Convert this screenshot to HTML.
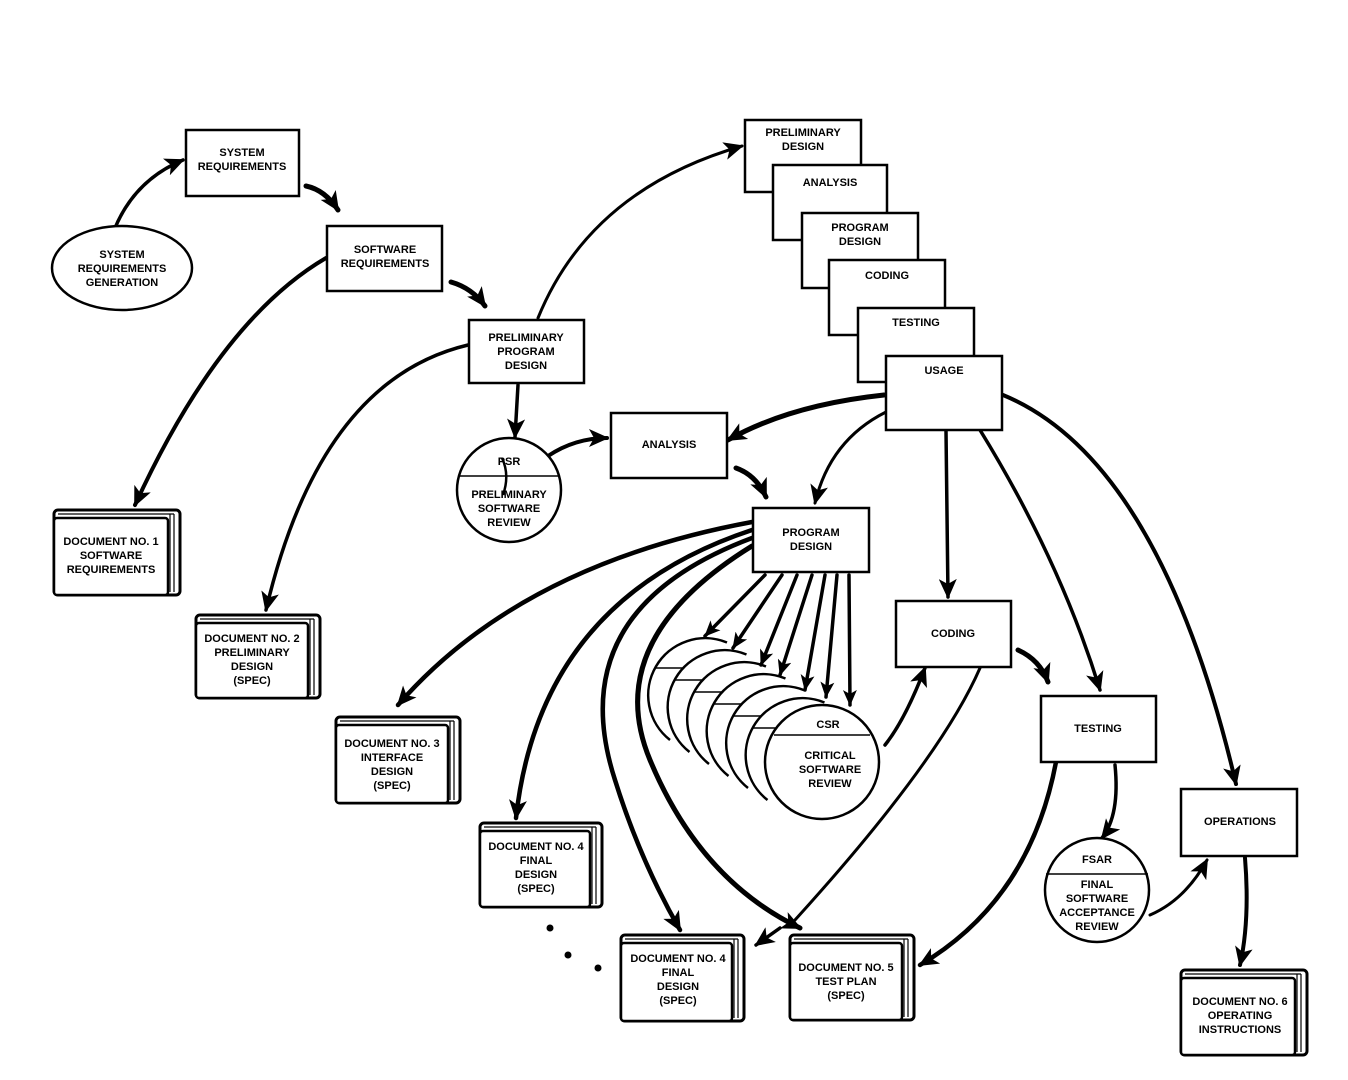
<!DOCTYPE html>
<html><head><meta charset="utf-8"><style>
html,body{margin:0;padding:0;background:#fff;}
svg{display:block;}
text{font-family:"Liberation Sans",Arial,sans-serif;font-weight:bold;font-size:11px;fill:#000;text-anchor:middle;}
.b{fill:#fff;stroke:#000;stroke-width:2.5;}
.c{fill:none;stroke:#000;stroke-linecap:round;}
</style></head><body>
<svg width="1348" height="1080" viewBox="0 0 1348 1080" xmlns="http://www.w3.org/2000/svg">
<defs>
<marker id="a" markerUnits="userSpaceOnUse" markerWidth="22" markerHeight="18" refX="18" refY="9" orient="auto">
<path d="M0,0 L20,9 L0,18 L5,9 Z" fill="#000"/></marker>
<marker id="s" markerUnits="userSpaceOnUse" markerWidth="18" markerHeight="14" refX="15" refY="7" orient="auto">
<path d="M0,0 L16,7 L0,14 L4,7 Z" fill="#000"/></marker>
</defs>

<!-- connectors -->
<g class="c" marker-end="url(#a)">
<path d="M115,228 Q135,180 183,160" stroke-width="3.5"/>
<path d="M306,186 Q325,190 338,210" stroke-width="5"/>
<path d="M451,282 Q472,288 485,306" stroke-width="5"/>
<path d="M326,258 Q220,320 135,505" stroke-width="4"/>
<path d="M468,345 Q320,380 266,610" stroke-width="3.5"/>
<path d="M538,318 Q590,190 742,146" stroke-width="3"/>
<path d="M518,385 L515,437" stroke-width="3.5"/>
<path d="M548,456 Q575,438 607,438" stroke-width="4"/>
<path d="M736,468 Q756,475 766,497" stroke-width="5"/>
<path d="M884,395 Q790,405 728,440" stroke-width="5"/>
<path d="M886,412 Q830,440 815,503" stroke-width="3"/>
<path d="M946,431 L948,597" stroke-width="3.5"/>
<path d="M980,430 Q1060,560 1100,690" stroke-width="3.5"/>
<path d="M1003,395 Q1160,460 1236,784" stroke-width="4"/>
<path d="M752,522 Q520,565 398,705" stroke-width="4.5"/>
<path d="M752,530 Q540,600 516,818" stroke-width="4.5"/>
<path d="M752,538 Q560,610 615,780 Q640,860 680,930" stroke-width="4.5"/>
<path d="M752,546 Q600,640 650,760 Q700,880 800,928" stroke-width="5"/>
<path d="M885,745 Q905,720 925,668" stroke-width="3.5"/>
<path d="M1018,650 Q1040,660 1048,682" stroke-width="5"/>
<path d="M1056,762 Q1030,900 920,965" stroke-width="4.5"/>
<path d="M1115,765 Q1120,815 1102,838" stroke-width="3.5"/>
<path d="M1150,915 Q1185,900 1207,860" stroke-width="3"/>
<path d="M1245,858 Q1250,920 1240,965" stroke-width="4"/>
<path d="M780,928 L756,945" stroke-width="3.5"/>
</g>
<path class="c" d="M980,668 Q940,760 795,920" stroke-width="3"/>
<!-- fan arrows -->
<g class="c" marker-end="url(#s)" stroke-width="3.5">
<path d="M765,575 L705,636"/>
<path d="M782,575 L733,648"/>
<path d="M797,575 L761,665"/>
<path d="M812,575 L780,675"/>
<path d="M825,575 L805,690"/>
<path d="M837,575 L826,697"/>
<path d="M849,575 L850,705"/>
</g>

<!-- ellipse -->
<ellipse cx="122" cy="268" rx="70" ry="42" class="b"/>
<text x="122" y="258">SYSTEM</text><text x="122" y="272">REQUIREMENTS</text><text x="122" y="286">GENERATION</text>

<!-- boxes -->
<rect x="186" y="130" width="113" height="66" class="b"/><text x="242" y="156">SYSTEM</text><text x="242" y="170">REQUIREMENTS</text>
<rect x="327" y="226" width="115" height="65" class="b"/><text x="385" y="253">SOFTWARE</text><text x="385" y="267">REQUIREMENTS</text>
<rect x="469" y="320" width="115" height="63" class="b"/><text x="526" y="341">PRELIMINARY</text><text x="526" y="355">PROGRAM</text><text x="526" y="369">DESIGN</text>
<rect x="611" y="413" width="116" height="65" class="b"/><text x="669" y="448">ANALYSIS</text>
<rect x="753" y="508" width="116" height="64" class="b"/><text x="811" y="536">PROGRAM</text><text x="811" y="550">DESIGN</text>
<rect x="896" y="601" width="115" height="66" class="b"/><text x="953" y="637">CODING</text>
<rect x="1041" y="696" width="115" height="66" class="b"/><text x="1098" y="732">TESTING</text>
<rect x="1181" y="789" width="116" height="67" class="b"/><text x="1240" y="825">OPERATIONS</text>

<!-- stack -->
<rect x="745" y="120" width="116" height="72" class="b"/><text x="803" y="136">PRELIMINARY</text><text x="803" y="150">DESIGN</text>
<rect x="773" y="165" width="114" height="75" class="b"/><text x="830" y="186">ANALYSIS</text>
<rect x="802" y="213" width="116" height="75" class="b"/><text x="860" y="231">PROGRAM</text><text x="860" y="245">DESIGN</text>
<rect x="829" y="260" width="116" height="75" class="b"/><text x="887" y="279">CODING</text>
<rect x="858" y="308" width="116" height="74" class="b"/><text x="916" y="326">TESTING</text>
<rect x="886" y="356" width="116" height="74" class="b"/><text x="944" y="374">USAGE</text>

<!-- PSR -->
<circle cx="509" cy="490" r="52" class="b"/>
<line x1="458" y1="476" x2="560" y2="476" stroke="#000" stroke-width="1.5"/>
<text x="509" y="465">PSR</text><text x="509" y="498">PRELIMINARY</text><text x="509" y="512">SOFTWARE</text><text x="509" y="526">REVIEW</text>
<path d="M502,458 Q510,475 503,495" stroke="#000" stroke-width="2.5" fill="none"/>

<!-- CSR stack: crescents -->
<g fill="none" stroke="#000" stroke-width="2.5">
<path d="M727,642.5 A57,57 0 0 0 670,740"/>
<path d="M746.5,654.5 A57,57 0 0 0 689.5,752"/>
<path d="M766,666.5 A57,57 0 0 0 709,764"/>
<path d="M785.5,678.5 A57,57 0 0 0 728.5,776"/>
<path d="M805,690.5 A57,57 0 0 0 748,788"/>
<path d="M824.5,702.5 A57,57 0 0 0 767.5,800"/>
</g>
<g stroke="#000" stroke-width="1.5">
<line x1="655" y1="668" x2="683" y2="668"/>
<line x1="674.5" y1="680" x2="702.5" y2="680"/>
<line x1="694" y1="692" x2="722" y2="692"/>
<line x1="713.5" y1="704" x2="741.5" y2="704"/>
<line x1="733" y1="716" x2="761" y2="716"/>
<line x1="752.5" y1="728" x2="780.5" y2="728"/>
</g>
<circle cx="822" cy="762" r="57" class="b"/>
<line x1="774" y1="735" x2="870" y2="735" stroke="#000" stroke-width="1.5"/>
<text x="828" y="728">CSR</text><text x="830" y="759">CRITICAL</text><text x="830" y="773">SOFTWARE</text><text x="830" y="787">REVIEW</text>

<!-- FSAR -->
<circle cx="1097" cy="890" r="52" class="b"/>
<line x1="1046" y1="874" x2="1148" y2="874" stroke="#000" stroke-width="1.5"/>
<text x="1097" y="863">FSAR</text><text x="1097" y="888">FINAL</text><text x="1097" y="902">SOFTWARE</text><text x="1097" y="916">ACCEPTANCE</text><text x="1097" y="930">REVIEW</text>

<!-- books -->
<g fill="#fff" stroke="#000">
<g transform="translate(54,510)"><rect x="0" y="0" width="126" height="85" rx="4" stroke-width="3"/><path d="M4,4 H120 M116,4 V82 M120,4 V82" stroke-width="1.2"/><rect x="0" y="8" width="114" height="77" rx="3" stroke-width="2.5"/></g>
<g transform="translate(196,615)"><rect x="0" y="0" width="124" height="83" rx="4" stroke-width="3"/><path d="M4,4 H118 M114,4 V80 M118,4 V80" stroke-width="1.2"/><rect x="0" y="8" width="112" height="75" rx="3" stroke-width="2.5"/></g>
<g transform="translate(336,717)"><rect x="0" y="0" width="124" height="86" rx="4" stroke-width="3"/><path d="M4,4 H118 M114,4 V83 M118,4 V83" stroke-width="1.2"/><rect x="0" y="8" width="112" height="78" rx="3" stroke-width="2.5"/></g>
<g transform="translate(480,823)"><rect x="0" y="0" width="122" height="84" rx="4" stroke-width="3"/><path d="M4,4 H116 M112,4 V81 M116,4 V81" stroke-width="1.2"/><rect x="0" y="8" width="110" height="76" rx="3" stroke-width="2.5"/></g>
<g transform="translate(621,935)"><rect x="0" y="0" width="123" height="86" rx="4" stroke-width="3"/><path d="M4,4 H117 M113,4 V83 M117,4 V83" stroke-width="1.2"/><rect x="0" y="8" width="111" height="78" rx="3" stroke-width="2.5"/></g>
<g transform="translate(790,935)"><rect x="0" y="0" width="124" height="85" rx="4" stroke-width="3"/><path d="M4,4 H118 M114,4 V82 M118,4 V82" stroke-width="1.2"/><rect x="0" y="8" width="112" height="77" rx="3" stroke-width="2.5"/></g>
<g transform="translate(1181,970)"><rect x="0" y="0" width="126" height="85" rx="4" stroke-width="3"/><path d="M4,4 H120 M116,4 V82 M120,4 V82" stroke-width="1.2"/><rect x="0" y="8" width="114" height="77" rx="3" stroke-width="2.5"/></g>
</g>
<text x="111" y="545">DOCUMENT NO. 1</text><text x="111" y="559">SOFTWARE</text><text x="111" y="573">REQUIREMENTS</text>
<text x="252" y="642">DOCUMENT NO. 2</text><text x="252" y="656">PRELIMINARY</text><text x="252" y="670">DESIGN</text><text x="252" y="684">(SPEC)</text>
<text x="392" y="747">DOCUMENT NO. 3</text><text x="392" y="761">INTERFACE</text><text x="392" y="775">DESIGN</text><text x="392" y="789">(SPEC)</text>
<text x="536" y="850">DOCUMENT NO. 4</text><text x="536" y="864">FINAL</text><text x="536" y="878">DESIGN</text><text x="536" y="892">(SPEC)</text>
<text x="678" y="962">DOCUMENT NO. 4</text><text x="678" y="976">FINAL</text><text x="678" y="990">DESIGN</text><text x="678" y="1004">(SPEC)</text>
<text x="846" y="971">DOCUMENT NO. 5</text><text x="846" y="985">TEST PLAN</text><text x="846" y="999">(SPEC)</text>
<text x="1240" y="1005">DOCUMENT NO. 6</text><text x="1240" y="1019">OPERATING</text><text x="1240" y="1033">INSTRUCTIONS</text>

<circle cx="550" cy="928" r="3.5"/><circle cx="568" cy="955" r="3.5"/><circle cx="598" cy="968" r="3.5"/>
</svg>
</body></html>
